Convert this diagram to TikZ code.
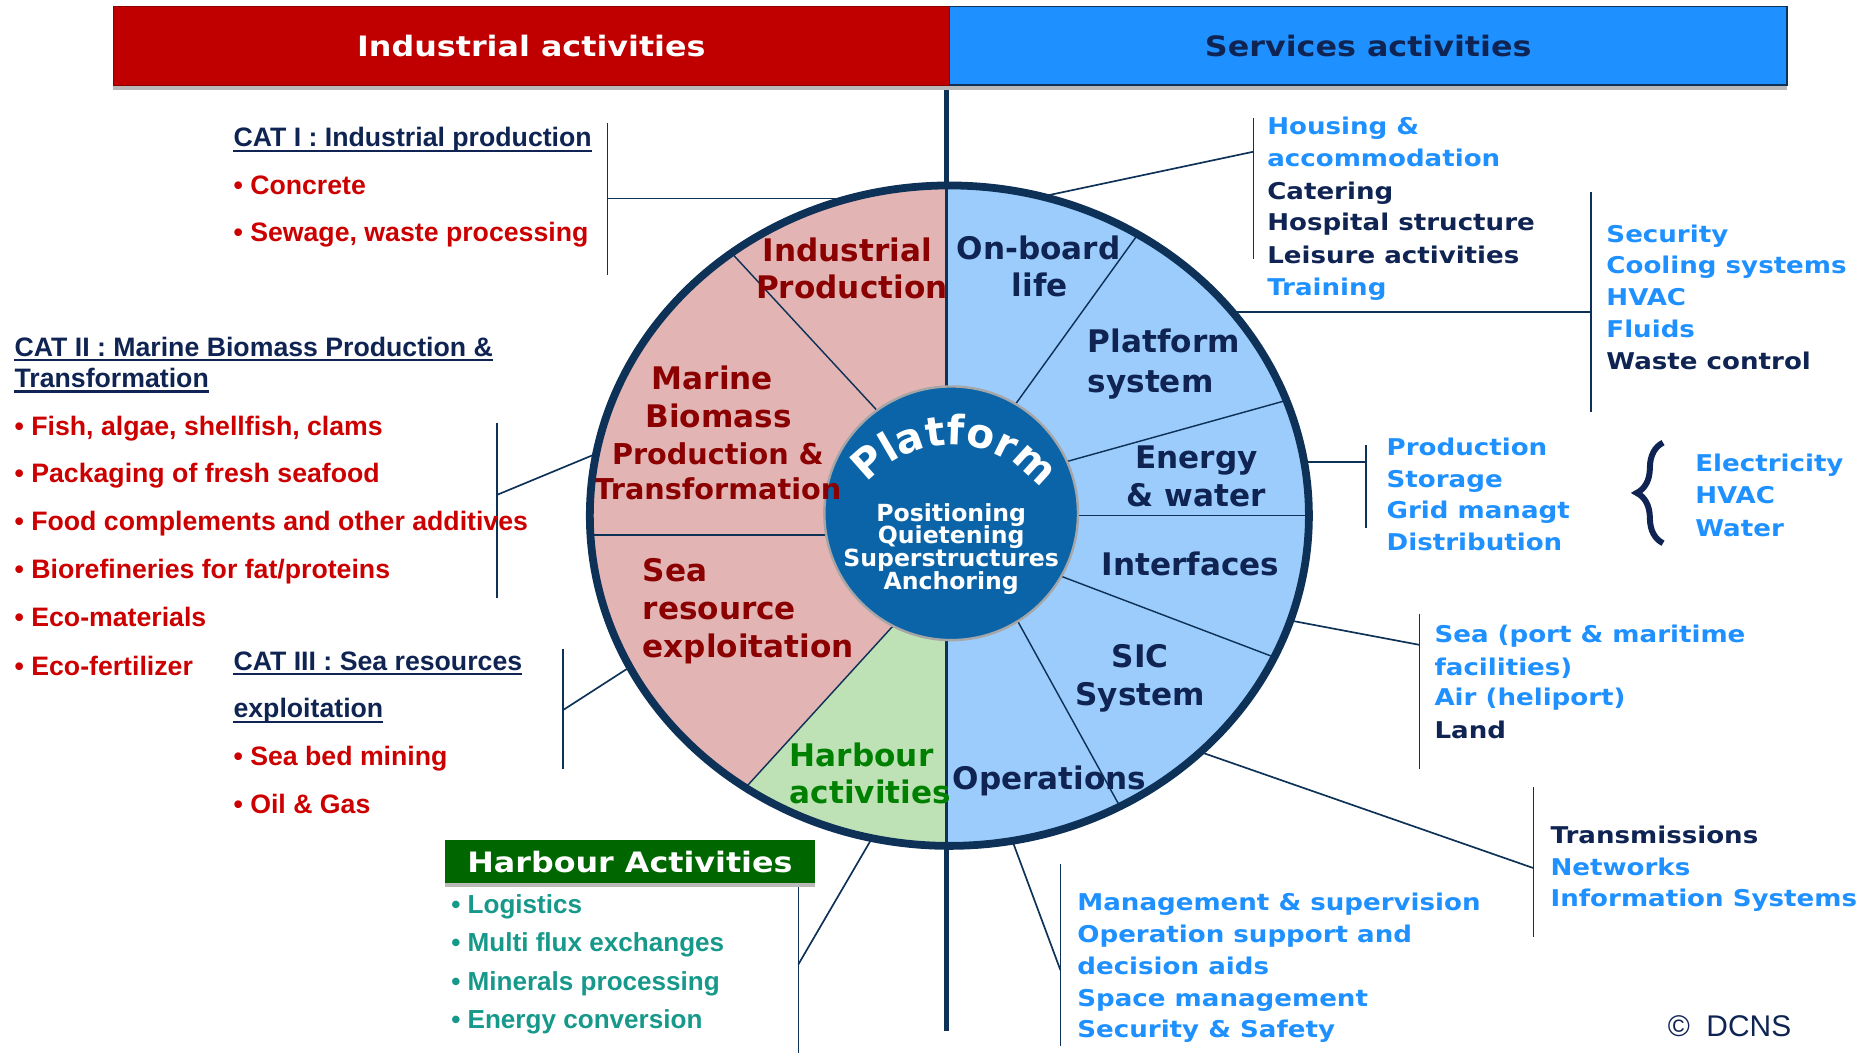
\documentclass[tikz,border=0pt]{standalone}
\usepackage{fontspec}
\setmainfont{Liberation Sans}
\newfontfamily\dvfont{DejaVu Sans}
\newfontfamily\dvwide[FakeStretch=1.13]{DejaVu Sans}
\usetikzlibrary{decorations.pathreplacing,decorations.text}
\definecolor{IndRed}{HTML}{C00000}
\definecolor{SrvBlue}{HTML}{1E90FF}
\definecolor{NavyNC}{HTML}{0D3157}
\definecolor{NavyTxt}{HTML}{0F2452}
\definecolor{TextRed}{HTML}{CC0000}
\definecolor{DarkRed}{HTML}{8B0000}
\definecolor{HarbGreen}{HTML}{006600}
\definecolor{HarbText}{HTML}{008000}
\definecolor{TealNC}{HTML}{16998A}
\definecolor{PinkFill}{HTML}{E2B4B4}
\definecolor{GreenFill}{HTML}{BEE2B5}
\definecolor{BlueFill}{HTML}{9CCCFC}
\definecolor{CoreBlue}{HTML}{0B64A8}
\newcommand\hdind{Industrial activities}
\newcommand\hdsrv{Services activities}
\newcommand\hdharb{Harbour Activities}
\newcommand\platfont{\dvfont\bfseries\fontsize{34}{34}\selectfont}
\tikzstyle{txt} = [inner sep=0pt, anchor=base west]
\tikzstyle{lhead} = [txt, text=NavyTxt, font=\bfseries\fontsize{22.3}{22.3}\selectfont]
\tikzstyle{litem} = [txt, text=TextRed, font=\bfseries\fontsize{22.3}{22.3}\selectfont]
\tikzstyle{hitem} = [txt, text=TealNC, font=\bfseries\fontsize{21.8}{21.8}\selectfont]
\tikzstyle{rlite} = [txt, text=SrvBlue, font=\dvwide\bfseries\fontsize{19.3}{19.3}\selectfont]
\tikzstyle{rdark} = [rlite, text=NavyTxt]
\tikzstyle{seclab} = [inner sep=0pt, anchor=base, font=\dvfont\bfseries\fontsize{26}{26}\selectfont]
\tikzstyle{lsec} = [seclab, text=DarkRed]
\tikzstyle{rsec} = [seclab, text=NavyTxt]
\tikzstyle{gsec} = [seclab, text=HarbText]
\tikzstyle{coretxt} = [inner sep=0pt, anchor=base, text=white, font=\dvfont\bfseries\fontsize{19.7}{19.7}\selectfont]
\tikzstyle{hdbox} = [rectangle, inner sep=0pt, minimum height=65.4pt, font=\dvwide\bfseries\fontsize{23.5}{23.5}\selectfont]
\tikzstyle{conn} = [draw=NavyNC, line width=1.4pt]
\tikzstyle{sector} = [draw=NavyNC, line width=1.2pt]
\tikzstyle{uline} = [draw=NavyTxt, line width=1.8pt]
\tikzstyle{curly} = [draw=NavyTxt, line width=5pt, decorate, decoration={brace, amplitude=22pt}]

\begin{document}
\begin{tikzpicture}[x=1pt, y=-1pt]
\useasboundingbox (0,0) rectangle (1568,880);
% disc sectors
\fill[BlueFill] (793.5,431) ellipse [x radius=300.5, y radius=276];
\begin{scope}
\clip (480,140) rectangle (791,720);
\fill[PinkFill] (793.5,431) ellipse [x radius=300.5, y radius=276];
\end{scope}
\begin{scope}
\clip (752,517) -- (503,790) -- (791,790) -- (791,517) -- cycle;
\fill[GreenFill] (793.5,431) ellipse [x radius=300.5, y radius=276];
\end{scope}
\coordinate (s1i) at (745,356); \coordinate (s1o) at (611,211);
\coordinate (s2i) at (690,447); \coordinate (s2o) at (493.5,447);
\coordinate (s3i) at (752,517); \coordinate (s3o) at (623,658.5);
\coordinate (s4i) at (840,350); \coordinate (s4o) at (951.5,195.3);
\coordinate (s5i) at (880,389); \coordinate (s5o) at (1075,334.7);
\coordinate (s6i) at (895,431); \coordinate (s6o) at (1094,431);
\coordinate (s7i) at (880,479); \coordinate (s7o) at (1065,549.3);
\coordinate (s8i) at (845,509); \coordinate (s8o) at (936,674);
\coordinate (rtop) at (791,155); \coordinate (rbot) at (791,707);
\draw[sector] (s1i) -- (s1o);
\draw[sector] (s2i) -- (s2o);
\draw[sector] (s3i) -- (s3o);
\draw[sector] (s4i) -- (s4o);
\draw[sector] (s5i) -- (s5o);
\draw[sector] (s6i) -- (s6o);
\draw[sector] (s7i) -- (s7o);
\draw[sector] (s8i) -- (s8o);
\draw[sector, line width=2pt] (rtop) -- (rbot);
% core
\node[circle, fill=CoreBlue, draw=gray!70, line width=2pt, minimum size=212pt, inner sep=0pt] (core) at (795,429) {};
\coordinate (arcc) at (795,465);
\path[decorate, decoration={text along path, text={|\platfont|Platform}, text align=center, text color=white}]
  ([shift={(-172:93)}]arcc) arc[start angle=-172, end angle=-4, radius=93];
\node[coretxt] (posi) at (795,436) {Positioning};
\node[coretxt] (quie) at (795,454.6) {Quietening};
\node[coretxt] (supe) at (795,473.3) {Superstructures};
\node[coretxt] (anch) at (795,492.7) {Anchoring};
% sector labels
\node[lsec] (indu) at (708,218.8) {Industrial};
\node[lsec] (prodn) at (712,249.4) {Production};
\node[lsec] (mari) at (595.5,325.9) {Marine};
\node[lsec] (biom) at (600.7,357.6) {Biomass};
\node[lsec, font=\dvfont\bfseries\fontsize{24}{24}\selectfont] (prodb) at (600,388.6) {Production \&};
\node[lsec, font=\dvfont\bfseries\fontsize{24}{24}\selectfont] (tran) at (600,417.3) {Transformation};
\node[lsec, anchor=base west] (sea) at (537,486.4) {Sea};
\node[lsec, anchor=base west] (reso) at (537,518) {resource};
\node[lsec, anchor=base west] (expl) at (537,549.8) {exploitation};
\node[gsec, anchor=base west] (harb) at (660,640.5) {Harbour};
\node[gsec, anchor=base west] (hact) at (660,671.8) {activities};
\node[rsec] (onbo) at (868,216.6) {On-board};
\node[rsec] (life) at (869,247.6) {life};
\node[rsec, anchor=base west] (plat) at (909,295) {Platform};
\node[rsec, anchor=base west] (syst) at (909,327.8) {system};
\node[rsec] (ener) at (1000,391.2) {Energy};
\node[rsec] (watr) at (1000,423.7) {\& water};
\node[rsec] (intf) at (995,480.7) {Interfaces};
\node[rsec] (sic) at (953,558) {SIC};
\node[rsec] (sics) at (953,589.7) {System};
\node[rsec, anchor=base west] (oper) at (796,659.9) {Operations};
% connectors
\coordinate (ipr) at (709.5,166); \coordinate (ipb) at (507.8,166);
\coordinate (mbr) at (498.2,379.3); \coordinate (mbb) at (415.2,413.7);
\coordinate (srr) at (526,557.8); \coordinate (srb) at (470.6,593.5);
\coordinate (har) at (728.8,700.6); \coordinate (hab) at (667.3,806);
\coordinate (opr) at (846,702.3); \coordinate (opb) at (886.3,810.8);
\coordinate (sir) at (1003.5,628.6); \coordinate (sib) at (1281.8,725.6);
\coordinate (ifr) at (1078.4,518.6); \coordinate (ifb) at (1186.5,539);
\coordinate (enr) at (1090,386); \coordinate (enb) at (1141.8,386);
\coordinate (psr) at (1029.8,260.5); \coordinate (psb) at (1329.6,260.5);
\coordinate (obr) at (870,164.5); \coordinate (obb) at (1047.7,126.8);
\draw[conn] (ipr) -- (ipb);
\draw[conn] (mbr) -- (mbb);
\draw[conn] (srr) -- (srb);
\draw[conn] (har) -- (hab);
\draw[conn] (opr) -- (opb);
\draw[conn] (sir) -- (sib);
\draw[conn] (ifr) -- (ifb);
\draw[conn] (enr) -- (enb);
\draw[conn] (psr) -- (psb);
\draw[conn] (obr) -- (obb);
% ring
\draw[draw=NavyNC, line width=6.5pt] (793.5,431) ellipse [x radius=300.5, y radius=276];
% brackets
\coordinate (ipt) at (507.8,103); \coordinate (ipd) at (507.8,230);
\coordinate (mbt) at (415.2,353.8); \coordinate (mbd) at (415.2,500);
\coordinate (srt) at (470.6,542.7); \coordinate (srd) at (470.6,643);
\coordinate (hat) at (667.3,738); \coordinate (had) at (667.3,880);
\coordinate (opt) at (886.3,722.4); \coordinate (opd) at (886.3,874);
\coordinate (sit) at (1281.8,658); \coordinate (sid) at (1281.8,783);
\coordinate (ift) at (1186.5,513); \coordinate (ifd) at (1186.5,643);
\coordinate (ent) at (1141.8,372); \coordinate (end) at (1141.8,441);
\coordinate (pst) at (1329.6,160.8); \coordinate (psd) at (1329.6,344);
\coordinate (obt) at (1047.7,99); \coordinate (obd) at (1047.7,216.7);
\draw[conn] (ipt) -- (ipd);
\draw[conn] (mbt) -- (mbd);
\draw[conn] (srt) -- (srd);
\draw[conn] (hat) -- (had);
\draw[conn] (opt) -- (opd);
\draw[conn] (sit) -- (sid);
\draw[conn] (ift) -- (ifd);
\draw[conn] (ent) -- (end);
\draw[conn] (pst) -- (psd);
\draw[conn] (obt) -- (obd);
\coordinate (brlo) at (1390,454); \coordinate (brhi) at (1390,370);
\draw[curly] (brlo) -- (brhi);
% headers
\coordinate (vtop) at (791,71); \coordinate (vbot) at (791,862);
\draw[draw=NavyNC, line width=3.8pt] (vtop) -- (rtop);
\draw[draw=NavyNC, line width=3.8pt] (rbot) -- (vbot);
\fill[gray!55] (94.5,71) rectangle (1493.5,75);
\node[hdbox, fill=IndRed, draw=DarkRed, minimum width=699pt, text=white] (indhd) at (444.1,38.3) {\hdind};
\node[hdbox, fill=SrvBlue, draw=NavyNC, line width=1.2pt, minimum width=699.8pt, text=NavyTxt] (srvhd) at (1143.6,38.3) {\hdsrv};
\fill[gray!55] (371.6,738.3) rectangle (681.3,741.4);
\node[hdbox, fill=HarbGreen, minimum width=309.7pt, minimum height=36.3pt, text=white] (harbhd) at (526.5,720.2) {\hdharb};
% industrial lists
\node[lhead] (cati) at (195,122.6) {CAT I : Industrial production};
\node[litem] (conc) at (195,162.5) {• Concrete};
\node[litem] (sewa) at (195,202) {• Sewage, waste processing};
\node[lhead] (catiia) at (12,297.6) {CAT II : Marine Biomass Production \&};
\node[lhead] (catiib) at (12,323.7) {Transformation};
\node[litem] (fish) at (12,363.6) {• Fish, algae, shellfish, clams};
\node[litem] (pack) at (12,403.5) {• Packaging of fresh seafood};
\node[litem] (food) at (12,443.4) {• Food complements and other additives};
\node[litem] (bior) at (12,483.4) {• Biorefineries for fat/proteins};
\node[litem] (ecom) at (12,523.8) {• Eco-materials};
\node[litem] (ecof) at (12,564.2) {• Eco-fertilizer};
\node[lhead] (catiiia) at (195,560) {CAT III : Sea resources};
\node[lhead] (catiiib) at (195,600) {exploitation};
\node[litem] (mine) at (195,640) {• Sea bed mining};
\node[litem] (oilg) at (195,680) {• Oil \& Gas};
\draw[uline] ([yshift=-3.5pt]cati.base west) -- ([yshift=-3.5pt]cati.base east);
\draw[uline] ([yshift=-3.5pt]catiia.base west) -- ([yshift=-3.5pt]catiia.base east);
\draw[uline] ([yshift=-3.5pt]catiib.base west) -- ([yshift=-3.5pt]catiib.base east);
\draw[uline] ([yshift=-3.5pt]catiiia.base west) -- ([yshift=-3.5pt]catiiia.base east);
\draw[uline] ([yshift=-3.5pt]catiiib.base west) -- ([yshift=-3.5pt]catiiib.base east);
\node[hitem] (logi) at (377,763.4) {• Logistics};
\node[hitem] (mflx) at (377,795.5) {• Multi flux exchanges};
\node[hitem] (mins) at (377,827.5) {• Minerals processing};
\node[hitem] (econ) at (377,859.5) {• Energy conversion};
% services lists
\node[rlite] (hous) at (1059,112.8) {Housing \&};
\node[rlite] (acco) at (1059,139.3) {accommodation};
\node[rdark] (cate) at (1059,166.6) {Catering};
\node[rdark] (hosp) at (1059,193) {Hospital structure};
\node[rdark] (leis) at (1059,220) {Leisure activities};
\node[rlite] (trai) at (1059,246.6) {Training};
\node[rlite] (secu) at (1342.5,202.5) {Security};
\node[rlite] (cool) at (1342.5,229) {Cooling systems};
\node[rlite] (hvac) at (1342.5,255) {HVAC};
\node[rlite] (flui) at (1342.5,282) {Fluids};
\node[rdark] (wast) at (1342.5,308.7) {Waste control};
\node[rlite] (prod) at (1158.8,380.3) {Production};
\node[rlite] (stor) at (1158.8,407.3) {Storage};
\node[rlite] (grid) at (1158.8,433.2) {Grid managt};
\node[rlite] (dist) at (1158.8,460.3) {Distribution};
\node[rlite] (elec) at (1416.8,394.3) {Electricity};
\node[rlite] (hvacb) at (1416.8,420.7) {HVAC};
\node[rlite] (wat) at (1416.8,448) {Water};
\node[rlite] (seap) at (1198.8,537.2) {Sea (port \& maritime};
\node[rlite] (faci) at (1198.8,564.2) {facilities)};
\node[rlite] (airh) at (1198.8,590) {Air (heliport)};
\node[rdark] (land) at (1198.8,617.1) {Land};
\node[rdark] (trns) at (1295.8,704.9) {Transmissions};
\node[rlite] (netw) at (1295.8,731.4) {Networks};
\node[rlite] (info) at (1295.8,757.8) {Information Systems};
\node[rlite] (mgmt) at (900.3,760.6) {Management \& supervision};
\node[rlite] (opsu) at (900.3,787.6) {Operation support and};
\node[rlite] (deci) at (900.3,814.1) {decision aids};
\node[rlite] (spac) at (900.3,840.9) {Space management};
\node[rlite] (safe) at (900.3,867) {Security \& Safety};
\node[txt, text=NavyTxt, font=\fontsize{25}{25}\selectfont] (dcns) at (1393.8,866.5) {©\ \ DCNS};
\end{tikzpicture}
\end{document}
